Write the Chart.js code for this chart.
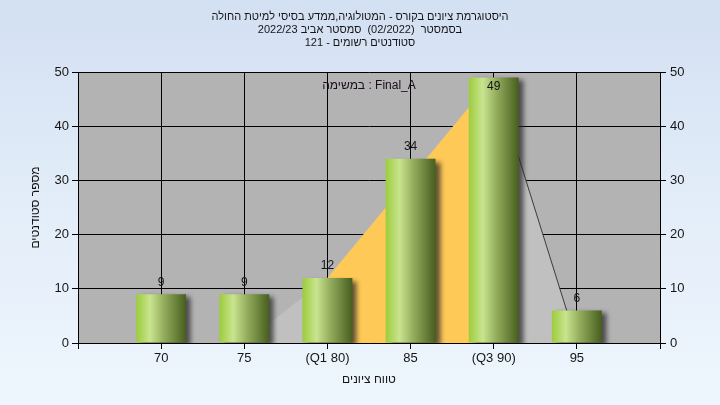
<!DOCTYPE html>
<html><head><meta charset="utf-8">
<script src="https://cdn.jsdelivr.net/npm/chart.js@4.4.0/dist/chart.umd.min.js"></script>
<style>
html,body{margin:0;padding:0;}
body{width:720px;height:405px;overflow:hidden;background:linear-gradient(180deg,#d3e0f2 0%,#e3edf9 50%,#eef6fd 100%);}
#wrap{width:720px;height:405px;position:relative;}
canvas{display:block;}
</style></head><body>
<div id="wrap"><canvas id="c" width="720" height="405" dir="rtl"></canvas></div>
<script>
// ---- data ----
const titleLines = [
  'היסטוגרמת ציונים בקורס - המטולוגיה,ממדע בסיסי למיטת החולה',
  'בסמסטר  (02/2022)  סמסטר אביב 2022/23',
  'סטודנטים רשומים - 121'
];
const categories = ['', '70', '75', '(Q1 80)', '85', '(Q3 90)', '95', ''];
const studentCounts = [null, 9, 9, 12, 34, 49, 6, null];
const distributionOutline = [null, 0, 0, 12, null, 49, 0, null];
const quartileBand = [null, null, null, 12, null, 49, null, null];
const yTickValues = [0, 10, 20, 30, 40, 50];
const xAxisTitle = 'טווח ציונים';
const yAxisTitle = 'מספר סטודנטים';
const taskLabel = 'במשימה : Final_A';

const FONT = "'Liberation Sans', Arial, 'DejaVu Sans', sans-serif";
const TEXT = '#151515';

function barGradient(ctx) {
  const chart = ctx.chart;
  const xs = chart.scales && chart.scales.x;
  if (!xs || ctx.type !== 'data' || !chart.chartArea) return '#9bc447';
  const cx = xs.getPixelForValue(ctx.dataIndex);
  const half = (xs.width / (categories.length - 1)) * 0.6 / 2;
  const g = chart.ctx.createLinearGradient(cx - half, 0, cx + half, 0);
  g.addColorStop(0, '#9ccc3c');
  g.addColorStop(0.28, '#c9e48f');
  g.addColorStop(0.55, '#94ae5e');
  g.addColorStop(1, '#475e1e');
  return g;
}

const plotBg = {
  id: 'plotBg',
  beforeDraw(chart) {
    const {ctx, chartArea: a} = chart;
    ctx.save();
    ctx.fillStyle = '#b3b3b3';
    ctx.fillRect(a.left, a.top, a.right - a.left, a.bottom - a.top);
    ctx.restore();
  }
};

const barShadow = {
  id: 'barShadow',
  beforeDatasetDraw(chart, args) {
    if (args.meta.type !== 'bar') return;
    const ctx = chart.ctx;
    ctx.save();
    ctx.shadowColor = 'rgba(40,40,40,0.75)';
    ctx.shadowOffsetX = 5;
    ctx.shadowOffsetY = 3;
    ctx.shadowBlur = 5;
  },
  afterDatasetDraw(chart, args) {
    if (args.meta.type !== 'bar') return;
    chart.ctx.restore();
  }
};

const labels = {
  id: 'labels',
  afterDatasetsDraw(chart) {
    const ctx = chart.ctx;
    const a = chart.chartArea;
    ctx.save();
    ctx.direction = 'ltr';
    ctx.textAlign = 'center';
    ctx.textBaseline = 'middle';
    ctx.fillStyle = TEXT;
    ctx.font = '12px ' + FONT;
    const meta = chart.getDatasetMeta(0);
    meta.data.forEach((el, i) => {
      const v = studentCounts[i];
      if (v === null || v === undefined) return;
      const y = Math.max(el.y - 12, a.top + 15);
      ctx.fillText(String(v), el.x, y);
    });
    ctx.fillStyle = '#1c0c1c';
    ctx.fillText(taskLabel, (a.left + a.right) / 2, a.top + 14);
    ctx.restore();
  }
};

const tickFont = {size: 13, family: FONT};

new Chart(document.getElementById('c'), {
  type: 'bar',
  data: {
    labels: categories,
    datasets: [
      {
        type: 'bar',
        data: studentCounts,
        backgroundColor: barGradient,
        borderWidth: 0,
        barPercentage: 0.6,
        categoryPercentage: 1,
        order: 0,
        yAxisID: 'y'
      },
      {
        type: 'line',
        data: quartileBand,
        spanGaps: true,
        fill: 'origin',
        backgroundColor: '#ffc957',
        borderColor: 'transparent',
        borderWidth: 0,
        pointRadius: 0,
        tension: 0,
        order: 1,
        yAxisID: 'y'
      },
      {
        type: 'line',
        data: distributionOutline,
        spanGaps: true,
        fill: 'origin',
        backgroundColor: '#c0c0c0',
        borderColor: 'transparent',
        borderWidth: 1,
        segment: {
          borderColor: c => (c.p0DataIndex === 5 ? '#3c3c3c' : 'transparent')
        },
        pointRadius: 0,
        tension: 0,
        order: 2,
        yAxisID: 'y'
      }
    ]
  },
  options: {
    responsive: false,
    animation: false,
    layout: {padding: 0},
    plugins: {
      legend: {display: false},
      tooltip: {enabled: false},
      title: {
        display: true,
        text: titleLines,
        color: TEXT,
        font: {size: 11, family: FONT, weight: 'normal', lineHeight: '13px'},
        padding: {top: 10, bottom: 23}
      }
    },
    scales: {
      x: {
        type: 'category',
        offset: false,
        grid: {offset: false, color: '#000', lineWidth: 1, tickLength: 6, tickColor: '#000'},
        border: {color: '#000', width: 1},
        ticks: {font: tickFont, color: TEXT, padding: 2, maxRotation: 0, autoSkip: false},
        title: {display: true, text: xAxisTitle, color: TEXT, font: {size: 12, family: FONT}, padding: {top: 0, bottom: 18}},
        afterFit(s) { s.height = 62; }
      },
      y: {
        position: 'left',
        min: 0, max: 50,
        afterBuildTicks(s) { s.ticks = yTickValues.map(v => ({value: v})); },
        grid: {color: '#000', lineWidth: 1, tickLength: 6, tickColor: '#000'},
        border: {color: '#000', width: 1},
        ticks: {font: tickFont, color: TEXT, padding: 3},
        title: {display: true, text: yAxisTitle, color: TEXT, font: {size: 12, family: FONT}, padding: {top: 28, bottom: 0}},
        afterFit(s) { s.width = 78; }
      },
      y2: {
        position: 'right',
        min: 0, max: 50,
        afterBuildTicks(s) { s.ticks = yTickValues.map(v => ({value: v})); },
        grid: {drawOnChartArea: false, tickLength: 6, tickColor: '#000'},
        border: {color: '#000', width: 1},
        ticks: {font: tickFont, color: TEXT, padding: 4},
        afterFit(s) { s.width = 60; }
      }
    }
  },
  plugins: [plotBg, barShadow, labels]
});
</script>
</body></html>
